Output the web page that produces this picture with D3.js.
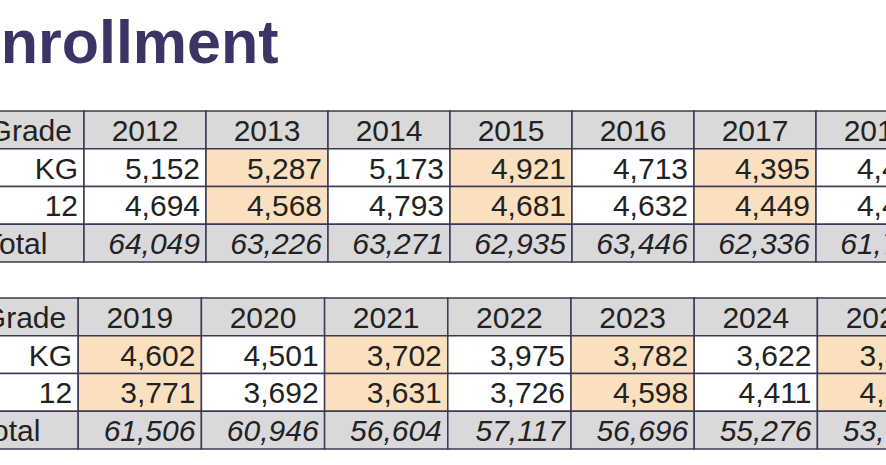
<!DOCTYPE html>
<html><head><meta charset="utf-8">
<script src="https://cdn.jsdelivr.net/npm/d3@7"></script>
<style>body{margin:0;background:#fff}svg{display:block}text{font-family:"Liberation Sans",Arial,sans-serif}</style>
</head><body><div id="chart"></div>
<script>
const years1 = ["2012","2013","2014","2015","2016","2017","2018"]
const kg1 = [5152,5287,5173,4921,4713,4395,4412]
const g12_1 = [4694,4568,4793,4681,4632,4449,4427]
const total1 = [64049,63226,63271,62935,63446,62336,61765]
const hi1 = ["2013","2015","2017"]

const years2 = ["2019","2020","2021","2022","2023","2024","2025"]
const kg2 = [4602,4501,3702,3975,3782,3622,3540]
const g12_2 = [3771,3692,3631,3726,4598,4411,4530]
const total2 = [61506,60946,56604,57117,56696,55276,53720]
const hi2 = ["2019","2021","2023","2025"]

const W = 886, H = 465
const svg = d3.select("#chart").append("svg").attr("width", W).attr("height", H)

svg.append("text")
  .attr("x", -40).attr("y", 63)
  .attr("fill", "#3b3566")
  .attr("font-size", 61).attr("font-weight", "bold")
  .text("Enrollment")

const fmt = d3.format(",")

const drawTable = (years, kg, g12, total, hi, x0, top, colW) => {
  const cols = ["Grade"].concat(years)
  const x = d3.scaleBand().domain(cols).range([x0, x0 + colW * cols.length])
  const rows = ["head","KG","12","Total"]
  const y = d3.scaleBand().domain(rows).range([top, top + 151])
  const g = svg.append("g")
  const cells = []
  rows.forEach((r, ri) => {
    cols.forEach((c, ci) => {
      let txt, fill = "#fff", anchor = "end", italic = false
      if (r === "head") { txt = c; fill = "#d9d9d9"; anchor = ci === 0 ? "end" : "middle" }
      else if (ci === 0) { txt = r; fill = r === "Total" ? "#d9d9dc" : "#fff"; anchor = r === "Total" ? "start" : "end" }
      else {
        const v = r === "KG" ? kg[ci-1] : r === "12" ? g12[ci-1] : total[ci-1]
        txt = fmt(v)
        if (r === "Total") { fill = "#d9d9dc"; italic = true }
        else if (hi.includes(c)) fill = "#fbe0bf"
      }
      cells.push({r, c, ci, txt, fill, anchor, italic})
    })
  })
  g.selectAll("rect").data(cells).enter().append("rect")
    .attr("x", d => x(d.c)).attr("y", d => y(d.r))
    .attr("width", x.bandwidth()).attr("height", y.bandwidth())
    .attr("fill", d => d.fill)
    .attr("stroke", "#3a3a55").attr("stroke-width", 1.5)
  g.selectAll("text").data(cells).enter().append("text")
    .attr("x", d => d.anchor === "middle" ? x(d.c) + x.bandwidth()/2
      : d.anchor === "start" ? x(d.c) + 22
      : x(d.c) + x.bandwidth() - (d.ci === 0 ? (d.r === "head" ? 12 : 6) : 6))
    .attr("y", d => y(d.r) + y.bandwidth()/2 + 11)
    .attr("text-anchor", d => d.anchor)
    .attr("font-size", 30)
    .attr("font-style", d => d.italic ? "italic" : "normal")
    .attr("fill", "#222")
    .text(d => d.txt)
}

drawTable(years1, kg1, g12_1, total1, hi1, -38, 111, 122)
drawTable(years2, kg2, g12_2, total2, hi2, -45, 298, 123.2)
</script></body></html>
